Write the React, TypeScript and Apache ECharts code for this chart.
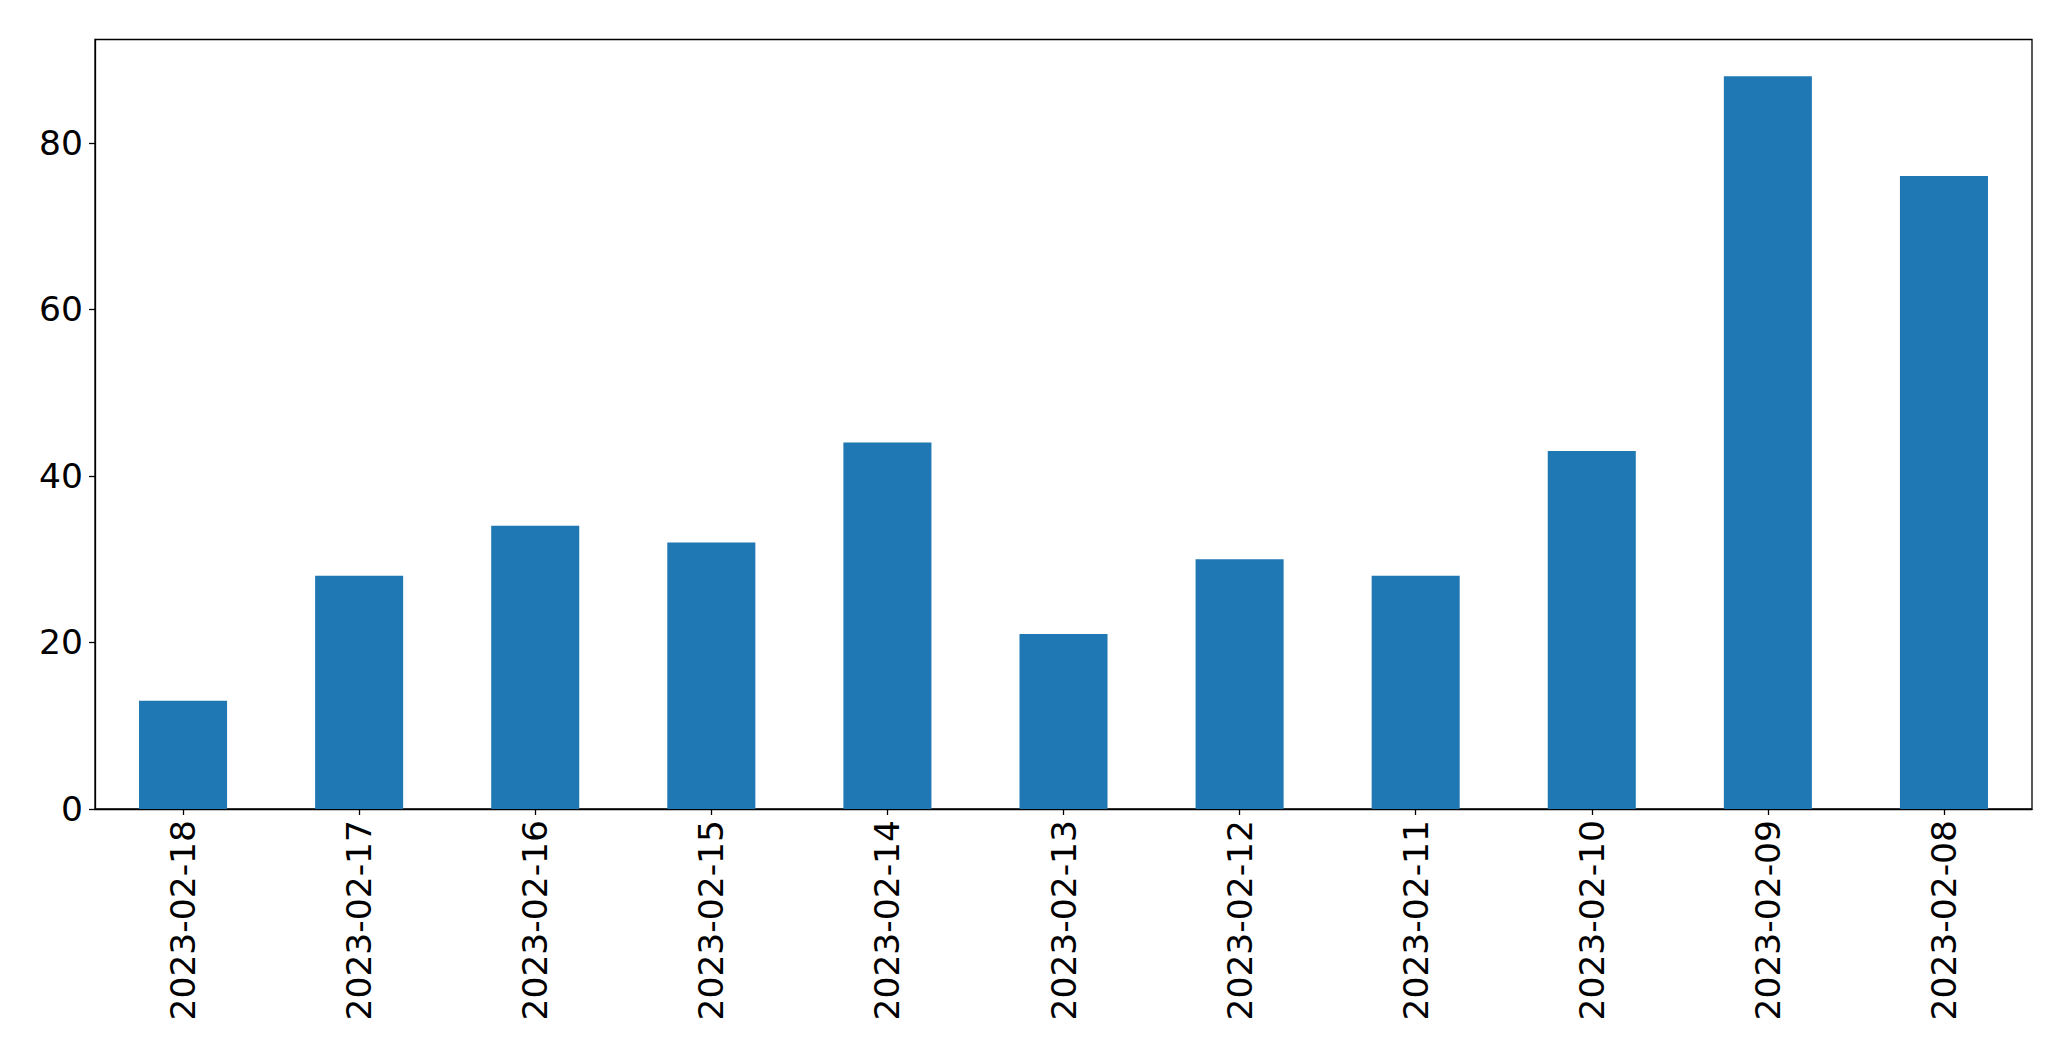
import React, { useEffect, useRef } from "react";
import * as echarts from "echarts";

const categories = [
  "2023-02-18",
  "2023-02-17",
  "2023-02-16",
  "2023-02-15",
  "2023-02-14",
  "2023-02-13",
  "2023-02-12",
  "2023-02-11",
  "2023-02-10",
  "2023-02-09",
  "2023-02-08",
];
const values = [13, 28, 34, 32, 44, 21, 30, 28, 43, 88, 76];
const yTicks = [0, 20, 40, 60, 80];

export default function App() {
  const ref = useRef<HTMLDivElement>(null);
  useEffect(() => {
    if (!ref.current) return;
    const chart = echarts.init(ref.current, null, { renderer: "svg" });
    const font = "DejaVu Sans";
    chart.setOption({
      animation: false,
      backgroundColor: "#ffffff",
      grid: {
        left: 95,
        right: 39,
        top: 39.5,
        bottom: 252,
        show: true,
        borderColor: "#000000",
        borderWidth: 1.3,
        backgroundColor: "transparent",
      },
      xAxis: {
        type: "category",
        data: categories,
        boundaryGap: true,
        axisLine: { show: true, lineStyle: { color: "#000", width: 1.3 } },
        axisTick: {
          show: true,
          alignWithLabel: true,
          length: 6,
          lineStyle: { color: "#000", width: 1.3 },
        },
        axisLabel: {
          rotate: 90,
          margin: 11,
          color: "#000",
          fontFamily: font,
          fontSize: 34.5,
          interval: 0,
        },
        splitLine: { show: false },
      },
      yAxis: {
        type: "value",
        min: 0,
        max: 92.4,
        interval: 20,
        axisLine: { show: true, lineStyle: { color: "#000", width: 1.3 } },
        axisTick: {
          show: true,
          length: 6,
          lineStyle: { color: "#000", width: 1.3 },
          customValues: yTicks,
        },
        axisLabel: {
          margin: 12,
          color: "#000",
          fontFamily: font,
          fontSize: 34.5,
          customValues: yTicks,
        },
        splitLine: { show: false },
      },
      series: [
        {
          type: "bar",
          data: values,
          barWidth: "50%",
          itemStyle: { color: "#1f77b4" },
        },
      ],
    });
    return () => chart.dispose();
  }, []);
  return (
    <div
      ref={ref}
      style={{ position: "fixed", left: 0, top: 0, width: 2071, height: 1061, background: "#fff" }}
    />
  );
}
